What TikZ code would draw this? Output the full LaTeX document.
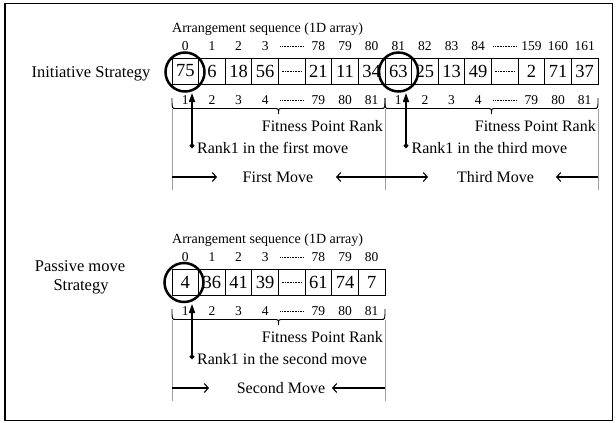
\documentclass[tikz,border=0pt]{standalone}
\usepackage{fontspec}
\setmainfont{Liberation Serif}
\usetikzlibrary{arrows.meta}
\tikzset{
 cell/.style={draw, line width=0.9pt, minimum width=26.625pt, minimum height=26pt, inner sep=0pt, font=\fontsize{18.5}{20}\selectfont},
 idx/.style={inner sep=0pt, font=\fontsize{13.5}{15}\selectfont},
 lbl/.style={inner sep=0pt, font=\fontsize{16}{18}\selectfont},
 strat/.style={inner sep=0pt, font=\fontsize{16.5}{19}\selectfont},
 arrlbl/.style={inner sep=0pt, font=\fontsize{14}{16}\selectfont},
 dotln/.style={line width=1pt, dash pattern=on 0.6pt off 1pt},
 guide/.style={draw=gray!75, line width=0.6pt},
 ring/.style={circle, draw, line width=2.5pt, minimum size=39pt, inner sep=0pt},
 rankarrow/.style={line width=1.6pt, {Circle[length=4.5pt]}-{Triangle[length=9pt,width=6pt]}},
 movearrow/.style={line width=1.1pt, -{Straight Barb[length=4pt,width=9pt]}},
 movearrowboth/.style={line width=1.1pt, {Straight Barb[length=4pt,width=9pt]}-{Straight Barb[length=4pt,width=9pt]}},
 bracepath/.style={line width=0.9pt},
}
\newcommand{\mybrace}[2]{%
 \draw[bracepath] (#1,98) .. controls (#1,108.5) .. ({#1+4},108.5) -- ({(#1+#2)/2-4},108.5) .. controls ({(#1+#2)/2},108.5) .. ({(#1+#2)/2},114) .. controls ({(#1+#2)/2},108.5) .. ({(#1+#2)/2+4},108.5) -- ({#2-4},108.5) .. controls (#2,108.5) .. (#2,98);}
\begin{document}
\begin{tikzpicture}[x=1pt,y=-1pt]
\useasboundingbox (0,0) rectangle (616,423);
\draw[line width=1.2pt] (5,3.5) rectangle (612.5,420.5);

% ---------- Initiative strategy ----------
\node[strat, anchor=base] (s1) at (91,77) {Initiative Strategy};
\node[arrlbl, anchor=base west] (ar1) at (172,32) {Arrangement sequence (1D array)};
\foreach \v [count=\i from 0] in {75,6,18,56,{},21,11,34,63,25,13,49,{},2,71,37}
  \node[cell] (a\i) at ({172+26.625*(\i+0.5)},71) {\v};
\foreach \v [count=\i from 0] in {0,1,2,3,{},78,79,80,81,82,83,84,{},159,160,161}
  \node[idx] (ta\i) at ({172+26.625*(\i+0.5)},46) {\v};
\foreach \v [count=\i from 0] in {1,2,3,4,{},79,80,81,1,2,3,4,{},79,80,81}
  \node[idx] (ba\i) at ({172+26.625*(\i+0.5)},100) {\v};
\foreach \n in {a4,a12} \draw[dotln] ([xshift=-10pt]\n.center) -- ([xshift=10pt]\n.center);
\foreach \n in {ta4,ta12,ba4,ba12} \draw[dotln] ([xshift=-11.5pt,yshift=-0.5pt]\n.center) -- ([xshift=11.5pt,yshift=-0.5pt]\n.center);
\node[ring] (r1) at (185,72) {};
\node[ring] (r3) at (398.5,72) {};
\mybrace{172}{385}
\mybrace{385}{598}
\draw[guide] (172,109) -- (172,190);
\draw[guide] (385,109) -- (385,190);
\draw[guide] (598,109) -- (598,190);
\node[lbl, anchor=base east] (f1) at (383,131) {Fitness Point Rank};
\node[lbl, anchor=base east] (f2) at (596,131) {Fitness Point Rank};
\coordinate (p1) at (192,148); \coordinate (q1) at (192,93);
\draw[rankarrow] (p1) -- (q1);
\node[lbl, anchor=base west] (rk1) at (197,153.5) {Rank1 in the first move};
\coordinate (p3) at (406,148); \coordinate (q3) at (406,93);
\draw[rankarrow] (p3) -- (q3);
\node[lbl, anchor=base west] (rk3) at (411.5,153.5) {Rank1 in the third move};
\coordinate (m1a) at (172,177); \coordinate (m1b) at (217,177);
\draw[movearrow] (m1a) -- (m1b);
\node[lbl, anchor=base] (mv1) at (278,182.5) {First Move};
\coordinate (m2a) at (336,177); \coordinate (m2b) at (428,177);
\draw[movearrowboth] (m2a) -- (m2b);
\node[lbl, anchor=base] (mv3) at (495.5,182.5) {Third Move};
\coordinate (m3a) at (598,177); \coordinate (m3b) at (556,177);
\draw[movearrow] (m3a) -- (m3b);

% ---------- Passive move strategy ----------
\begin{scope}[shift={(0,211)}]
\node[strat, anchor=base] (s2a) at (80,60) {Passive move};
\node[strat, anchor=base] (s2b) at (81,79) {Strategy};
\node[arrlbl, anchor=base west] (ar2) at (172,32) {Arrangement sequence (1D array)};
\foreach \v [count=\i from 0] in {4,36,41,39,{},61,74,7}
  \node[cell] (b\i) at ({172+26.625*(\i+0.5)},71) {\v};
\foreach \v [count=\i from 0] in {0,1,2,3,{},78,79,80}
  \node[idx] (tb\i) at ({172+26.625*(\i+0.5)},46) {\v};
\foreach \v [count=\i from 0] in {1,2,3,4,{},79,80,81}
  \node[idx] (bb\i) at ({172+26.625*(\i+0.5)},100) {\v};
\draw[dotln] ([xshift=-10pt]b4.center) -- ([xshift=10pt]b4.center);
\foreach \n in {tb4,bb4} \draw[dotln] ([xshift=-11.5pt,yshift=-0.5pt]\n.center) -- ([xshift=11.5pt,yshift=-0.5pt]\n.center);
\node[ring] (r2) at (184,71.5) {};
\mybrace{172}{385}
\draw[guide] (172,109) -- (172,190);
\draw[guide] (385,109) -- (385,190);
\node[lbl, anchor=base east] (f3) at (383,131) {Fitness Point Rank};
\coordinate (p2) at (192,148); \coordinate (q2) at (192,93);
\draw[rankarrow] (p2) -- (q2);
\node[lbl, anchor=base west] (rk2) at (197,153.5) {Rank1 in the second move};
\coordinate (n1a) at (172,177); \coordinate (n1b) at (209,177);
\draw[movearrow] (n1a) -- (n1b);
\node[lbl, anchor=base] (mv2) at (281,182.5) {Second Move};
\coordinate (n2a) at (385,177); \coordinate (n2b) at (332,177);
\draw[movearrow] (n2a) -- (n2b);
\end{scope}
\end{tikzpicture}
\end{document}
